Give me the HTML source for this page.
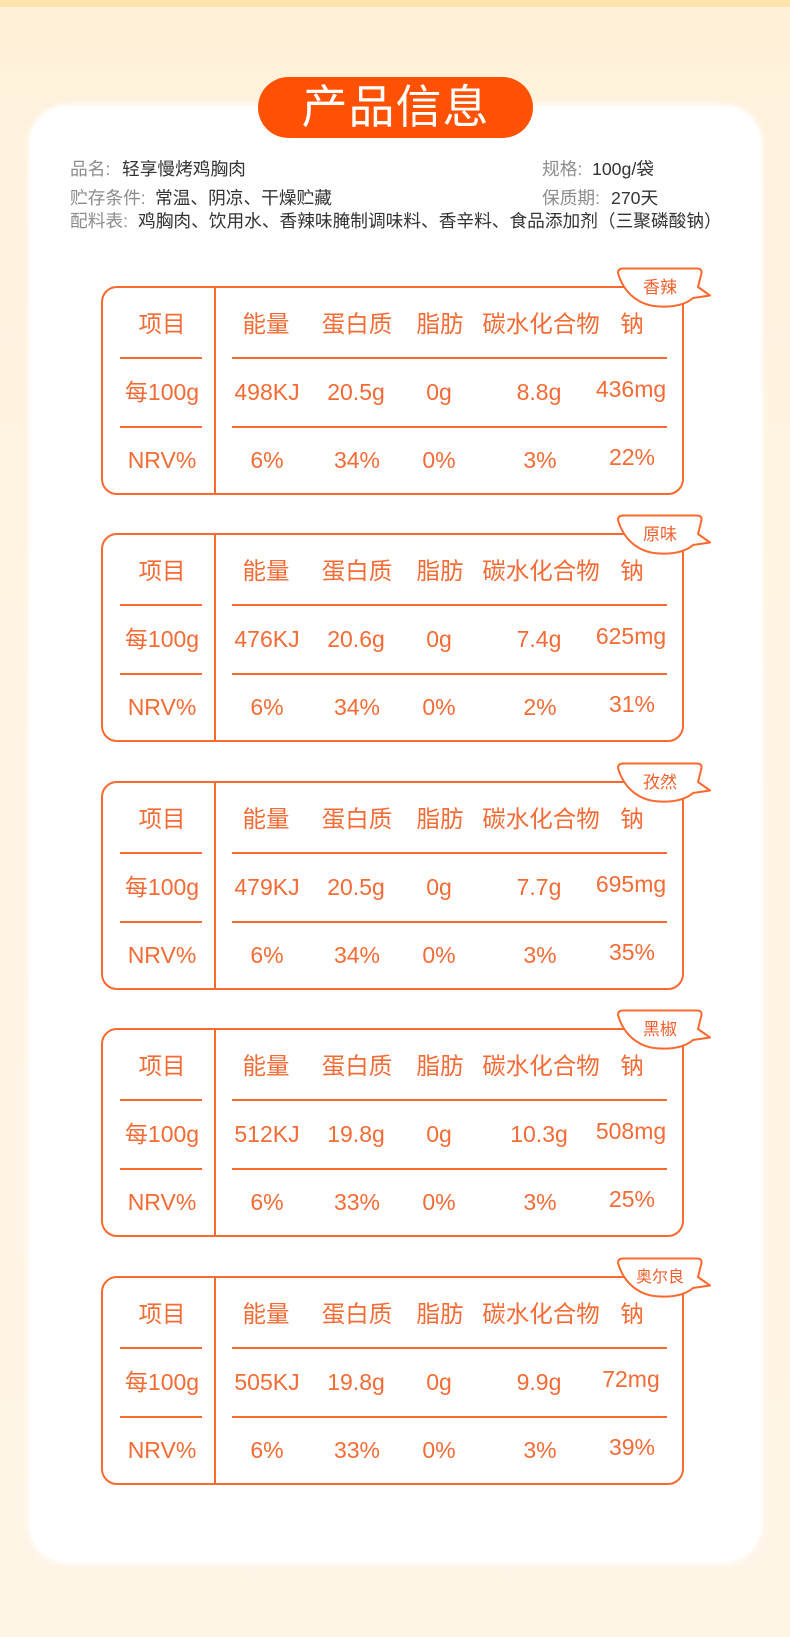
<!DOCTYPE html>
<html>
<head>
<meta charset="utf-8">
<style>
  html,body{margin:0;padding:0;}
  body{width:790px;height:1637px;position:relative;overflow:hidden;
    background:linear-gradient(#fff0d6 0px,#fff2dd 120px,#fff4e5 800px,#fff5e7 1637px);
    font-family:"Liberation Sans","Noto Sans CJK SC",sans-serif;}
  .strip{position:absolute;left:0;top:0;width:790px;height:7px;background:#ffe3ad;}
  .card{position:absolute;left:30px;top:106px;width:731px;height:1456px;background:#fff;border-radius:38px;
    box-shadow:0 0 6px 2px rgba(255,255,255,0.9);}
  .pill{position:absolute;left:258px;top:77px;width:275px;height:61px;border-radius:31px;background:#fe5103;
    color:#fff;font-family:"Liberation Sans","Noto Sans CJK SC",sans-serif;font-size:46px;line-height:61px;
    text-align:center;letter-spacing:1px;}
  .info{position:absolute;font-size:17.7px;line-height:24px;height:24px;white-space:nowrap;
    font-family:"Liberation Sans","Noto Sans CJK SC",sans-serif;}
  .lb{color:#8c8c8c;}
  .vl{color:#333;}
  .tb{position:absolute;left:0;width:790px;height:240px;}
  .box{position:absolute;left:101px;top:-1px;width:583px;height:209px;box-sizing:border-box;
    border:2px solid #fa6a2f;border-radius:16px;}
  .dv{position:absolute;left:214px;top:0;width:2px;height:207px;background:#fa6a2f;}
  .hl{position:absolute;height:2px;background:#fa6a2f;}
  .t{position:absolute;width:160px;margin-left:-80px;height:30px;line-height:30px;text-align:center;
    color:#f36b35;font-size:23px;white-space:nowrap;}
  .h{font-size:23.5px;}
  .bub{position:absolute;left:615px;top:-21px;width:100px;height:48px;overflow:visible;}
  .bt{position:absolute;width:80px;margin-left:-40px;left:660px;top:-11px;height:24px;line-height:24px;
    text-align:center;color:#f0602c;font-size:17px;white-space:nowrap;}
</style>
</head>
<body>
<div class="strip"></div>
<div class="card"></div>
<div class="pill">产品信息</div>

<div class="info lb" style="left:70px;top:157px;">品名:</div>
<div class="info vl" style="left:122px;top:157px;">轻享慢烤鸡胸肉</div>
<div class="info lb" style="left:542px;top:157px;">规格:</div>
<div class="info vl" style="left:592px;top:157px;">100g/袋</div>

<div class="info lb" style="left:70px;top:186px;">贮存条件:</div>
<div class="info vl" style="left:155px;top:186px;">常温、阴凉、干燥贮藏</div>
<div class="info lb" style="left:542px;top:186px;">保质期:</div>
<div class="info vl" style="left:611px;top:186px;">270天</div>

<div class="info lb" style="left:70px;top:209px;">配料表:</div>
<div class="info vl" style="left:138px;top:209px;">鸡胸肉、饮用水、香辣味腌制调味料、香辛料、食品添加剂（三聚磷酸钠）</div>

<!-- Table 1 -->
<div class="tb" style="top:287px;">
  <div class="box"></div>
  <div class="dv"></div>
  <div class="hl" style="left:120px;width:82px;top:70px;"></div>
  <div class="hl" style="left:232px;width:435px;top:70px;"></div>
  <div class="hl" style="left:120px;width:82px;top:139px;"></div>
  <div class="hl" style="left:232px;width:435px;top:139px;"></div>
  <svg class="bub" viewBox="0 0 100 48"><path d="M3,7 Q3,2.5 8,2.5 L82,2.5 Q87,2.5 86.5,7 L83,21 L95,29.5 L78,32 C70,39 57,41 45,40.5 C25,40 9,28 3,7 Z" fill="#fff" stroke="#fa6a2f" stroke-width="2" stroke-linejoin="round"/></svg>
  <div class="bt">香辣</div>
  <div class="t h" style="left:162px;top:22px;">项目</div>
  <div class="t h" style="left:266px;top:22px;">能量</div>
  <div class="t h" style="left:357px;top:22px;">蛋白质</div>
  <div class="t h" style="left:440px;top:22px;">脂肪</div>
  <div class="t h" style="left:541px;top:22px;">碳水化合物</div>
  <div class="t h" style="left:632px;top:22px;">钠</div>
  <div class="t" style="left:162px;top:90px;">每100g</div>
  <div class="t" style="left:267px;top:90px;">498KJ</div>
  <div class="t" style="left:356px;top:90px;">20.5g</div>
  <div class="t" style="left:439px;top:90px;">0g</div>
  <div class="t" style="left:539px;top:90px;">8.8g</div>
  <div class="t" style="left:631px;top:87px;">436mg</div>
  <div class="t" style="left:162px;top:158px;">NRV%</div>
  <div class="t" style="left:267px;top:158px;">6%</div>
  <div class="t" style="left:357px;top:158px;">34%</div>
  <div class="t" style="left:439px;top:158px;">0%</div>
  <div class="t" style="left:540px;top:158px;">3%</div>
  <div class="t" style="left:632px;top:155px;">22%</div>
</div>

<!-- Table 2 -->
<div class="tb" style="top:534px;">
  <div class="box"></div>
  <div class="dv"></div>
  <div class="hl" style="left:120px;width:82px;top:70px;"></div>
  <div class="hl" style="left:232px;width:435px;top:70px;"></div>
  <div class="hl" style="left:120px;width:82px;top:139px;"></div>
  <div class="hl" style="left:232px;width:435px;top:139px;"></div>
  <svg class="bub" viewBox="0 0 100 48"><path d="M3,7 Q3,2.5 8,2.5 L82,2.5 Q87,2.5 86.5,7 L83,21 L95,29.5 L78,32 C70,39 57,41 45,40.5 C25,40 9,28 3,7 Z" fill="#fff" stroke="#fa6a2f" stroke-width="2" stroke-linejoin="round"/></svg>
  <div class="bt">原味</div>
  <div class="t h" style="left:162px;top:22px;">项目</div>
  <div class="t h" style="left:266px;top:22px;">能量</div>
  <div class="t h" style="left:357px;top:22px;">蛋白质</div>
  <div class="t h" style="left:440px;top:22px;">脂肪</div>
  <div class="t h" style="left:541px;top:22px;">碳水化合物</div>
  <div class="t h" style="left:632px;top:22px;">钠</div>
  <div class="t" style="left:162px;top:90px;">每100g</div>
  <div class="t" style="left:267px;top:90px;">476KJ</div>
  <div class="t" style="left:356px;top:90px;">20.6g</div>
  <div class="t" style="left:439px;top:90px;">0g</div>
  <div class="t" style="left:539px;top:90px;">7.4g</div>
  <div class="t" style="left:631px;top:87px;">625mg</div>
  <div class="t" style="left:162px;top:158px;">NRV%</div>
  <div class="t" style="left:267px;top:158px;">6%</div>
  <div class="t" style="left:357px;top:158px;">34%</div>
  <div class="t" style="left:439px;top:158px;">0%</div>
  <div class="t" style="left:540px;top:158px;">2%</div>
  <div class="t" style="left:632px;top:155px;">31%</div>
</div>

<!-- Table 3 -->
<div class="tb" style="top:782px;">
  <div class="box"></div>
  <div class="dv"></div>
  <div class="hl" style="left:120px;width:82px;top:70px;"></div>
  <div class="hl" style="left:232px;width:435px;top:70px;"></div>
  <div class="hl" style="left:120px;width:82px;top:139px;"></div>
  <div class="hl" style="left:232px;width:435px;top:139px;"></div>
  <svg class="bub" viewBox="0 0 100 48"><path d="M3,7 Q3,2.5 8,2.5 L82,2.5 Q87,2.5 86.5,7 L83,21 L95,29.5 L78,32 C70,39 57,41 45,40.5 C25,40 9,28 3,7 Z" fill="#fff" stroke="#fa6a2f" stroke-width="2" stroke-linejoin="round"/></svg>
  <div class="bt">孜然</div>
  <div class="t h" style="left:162px;top:22px;">项目</div>
  <div class="t h" style="left:266px;top:22px;">能量</div>
  <div class="t h" style="left:357px;top:22px;">蛋白质</div>
  <div class="t h" style="left:440px;top:22px;">脂肪</div>
  <div class="t h" style="left:541px;top:22px;">碳水化合物</div>
  <div class="t h" style="left:632px;top:22px;">钠</div>
  <div class="t" style="left:162px;top:90px;">每100g</div>
  <div class="t" style="left:267px;top:90px;">479KJ</div>
  <div class="t" style="left:356px;top:90px;">20.5g</div>
  <div class="t" style="left:439px;top:90px;">0g</div>
  <div class="t" style="left:539px;top:90px;">7.7g</div>
  <div class="t" style="left:631px;top:87px;">695mg</div>
  <div class="t" style="left:162px;top:158px;">NRV%</div>
  <div class="t" style="left:267px;top:158px;">6%</div>
  <div class="t" style="left:357px;top:158px;">34%</div>
  <div class="t" style="left:439px;top:158px;">0%</div>
  <div class="t" style="left:540px;top:158px;">3%</div>
  <div class="t" style="left:632px;top:155px;">35%</div>
</div>

<!-- Table 4 -->
<div class="tb" style="top:1029px;">
  <div class="box"></div>
  <div class="dv"></div>
  <div class="hl" style="left:120px;width:82px;top:70px;"></div>
  <div class="hl" style="left:232px;width:435px;top:70px;"></div>
  <div class="hl" style="left:120px;width:82px;top:139px;"></div>
  <div class="hl" style="left:232px;width:435px;top:139px;"></div>
  <svg class="bub" viewBox="0 0 100 48"><path d="M3,7 Q3,2.5 8,2.5 L82,2.5 Q87,2.5 86.5,7 L83,21 L95,29.5 L78,32 C70,39 57,41 45,40.5 C25,40 9,28 3,7 Z" fill="#fff" stroke="#fa6a2f" stroke-width="2" stroke-linejoin="round"/></svg>
  <div class="bt">黑椒</div>
  <div class="t h" style="left:162px;top:22px;">项目</div>
  <div class="t h" style="left:266px;top:22px;">能量</div>
  <div class="t h" style="left:357px;top:22px;">蛋白质</div>
  <div class="t h" style="left:440px;top:22px;">脂肪</div>
  <div class="t h" style="left:541px;top:22px;">碳水化合物</div>
  <div class="t h" style="left:632px;top:22px;">钠</div>
  <div class="t" style="left:162px;top:90px;">每100g</div>
  <div class="t" style="left:267px;top:90px;">512KJ</div>
  <div class="t" style="left:356px;top:90px;">19.8g</div>
  <div class="t" style="left:439px;top:90px;">0g</div>
  <div class="t" style="left:539px;top:90px;">10.3g</div>
  <div class="t" style="left:631px;top:87px;">508mg</div>
  <div class="t" style="left:162px;top:158px;">NRV%</div>
  <div class="t" style="left:267px;top:158px;">6%</div>
  <div class="t" style="left:357px;top:158px;">33%</div>
  <div class="t" style="left:439px;top:158px;">0%</div>
  <div class="t" style="left:540px;top:158px;">3%</div>
  <div class="t" style="left:632px;top:155px;">25%</div>
</div>

<!-- Table 5 -->
<div class="tb" style="top:1277px;">
  <div class="box"></div>
  <div class="dv"></div>
  <div class="hl" style="left:120px;width:82px;top:70px;"></div>
  <div class="hl" style="left:232px;width:435px;top:70px;"></div>
  <div class="hl" style="left:120px;width:82px;top:139px;"></div>
  <div class="hl" style="left:232px;width:435px;top:139px;"></div>
  <svg class="bub" viewBox="0 0 100 48"><path d="M3,7 Q3,2.5 8,2.5 L82,2.5 Q87,2.5 86.5,7 L83,21 L95,29.5 L78,32 C70,39 57,41 45,40.5 C25,40 9,28 3,7 Z" fill="#fff" stroke="#fa6a2f" stroke-width="2" stroke-linejoin="round"/></svg>
  <div class="bt" style="font-size:16px;">奥尔良</div>
  <div class="t h" style="left:162px;top:22px;">项目</div>
  <div class="t h" style="left:266px;top:22px;">能量</div>
  <div class="t h" style="left:357px;top:22px;">蛋白质</div>
  <div class="t h" style="left:440px;top:22px;">脂肪</div>
  <div class="t h" style="left:541px;top:22px;">碳水化合物</div>
  <div class="t h" style="left:632px;top:22px;">钠</div>
  <div class="t" style="left:162px;top:90px;">每100g</div>
  <div class="t" style="left:267px;top:90px;">505KJ</div>
  <div class="t" style="left:356px;top:90px;">19.8g</div>
  <div class="t" style="left:439px;top:90px;">0g</div>
  <div class="t" style="left:539px;top:90px;">9.9g</div>
  <div class="t" style="left:631px;top:87px;">72mg</div>
  <div class="t" style="left:162px;top:158px;">NRV%</div>
  <div class="t" style="left:267px;top:158px;">6%</div>
  <div class="t" style="left:357px;top:158px;">33%</div>
  <div class="t" style="left:439px;top:158px;">0%</div>
  <div class="t" style="left:540px;top:158px;">3%</div>
  <div class="t" style="left:632px;top:155px;">39%</div>
</div>

</body>
</html>
